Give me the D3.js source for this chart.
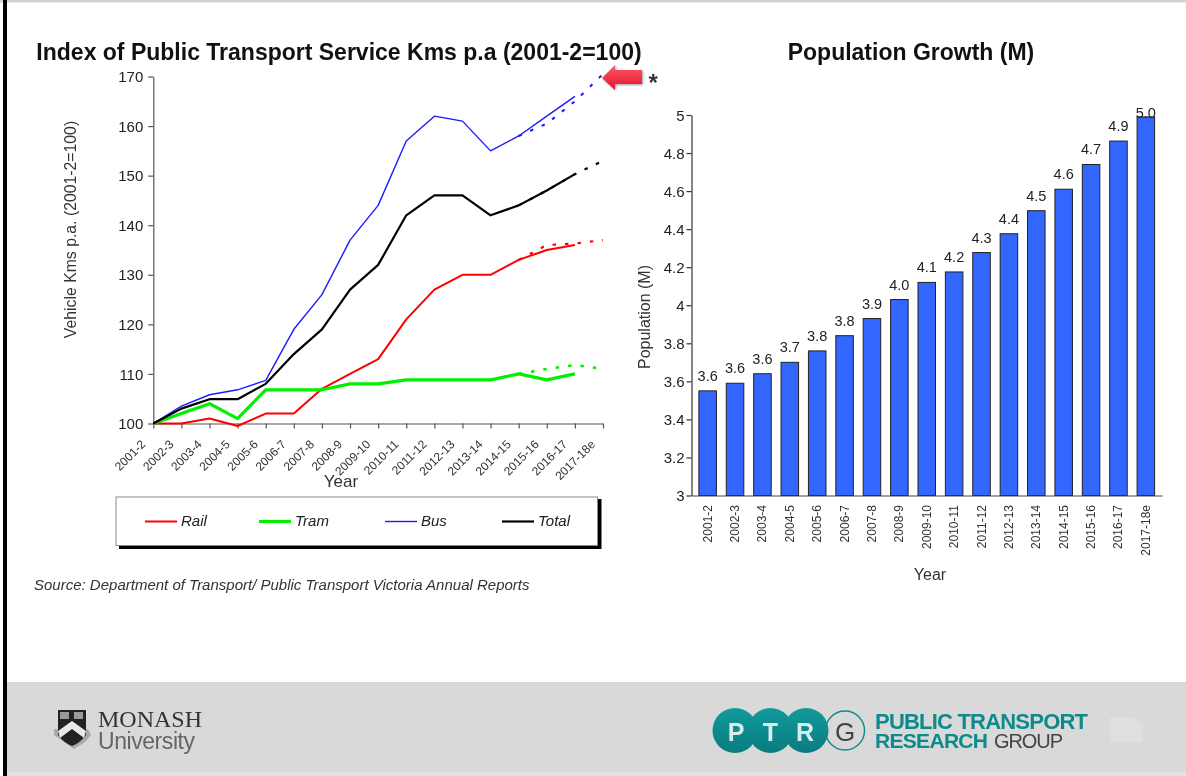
<!DOCTYPE html>
<html><head><meta charset="utf-8">
<script src="https://cdn.jsdelivr.net/npm/d3@7/dist/d3.min.js"></script>
<style>
html,body{margin:0;padding:0;background:#fff;overflow:hidden}
svg{display:block;filter:blur(0.4px)}
text{font-family:"Liberation Sans",Arial,sans-serif;fill:#222}
</style></head><body><svg id="c" width="1186" height="776"></svg>
<script>
const years = ["2001-2","2002-3","2003-4","2004-5","2005-6","2006-7","2007-8","2008-9","2009-10","2010-11","2011-12","2012-13","2013-14","2014-15","2015-16","2016-17","2017-18e"];
const rail  = [100,100,101,99.5,102,102,107,110,113,121,127,130,130,133,135,136];
const tram  = [100,102,104,101,106.8,106.8,106.8,108,108,108.8,108.8,108.8,108.8,110,108.8,110];
const bus   = [100,103.5,105.8,106.8,108.7,119,126,137,144,157,162,161,155,158,162,166];
const total = [100,103,104.9,104.9,108,114,119,127,132,142,146,146,142,144,147,150.3];
// Dotted projection series, starting at 2014-15
const railProj  = [133,136,136.3,137];
const tramProj  = [110,111,111.8,111];
const busProj   = [158,160.5,165,170.5];
const totalProj = [144,147,150.3,153];
const population = [3.55,3.59,3.64,3.70,3.76,3.84,3.93,4.03,4.12,4.175,4.277,4.376,4.497,4.61,4.74,4.863,4.99];
const popLabels = ["3.6","3.6","3.6","3.7","3.8","3.8","3.9","4.0","4.1","4.2","4.3","4.4","4.5","4.6","4.7","4.9","5.0"];
const legendNames = ["Rail","Tram","Bus","Total"];
const indexTicks = [100,110,120,130,140,150,160,170];
const popTicks = [3,3.2,3.4,3.6,3.8,4,4.2,4.4,4.6,4.8,5];

const svg = d3.select("#c");
const C = {Rail:"#ff0000",Tram:"#00f000",Bus:"#1a1aff",Total:"#000"};
const W = {Rail:2,Tram:3.2,Bus:1.4,Total:2.2};

// Slide frame
svg.append("rect").attr("width",1186).attr("height",2.5).attr("fill","#d4d4d4");
svg.append("rect").attr("x",3).attr("width",4).attr("height",776).attr("fill","#000");
svg.append("rect").attr("x",7).attr("y",682).attr("width",1179).attr("height",94).attr("fill","#d9d9d9");
svg.append("rect").attr("x",7).attr("y",771.5).attr("width",1179).attr("height",5).attr("fill","#e2e2e2");

// Titles
svg.append("text").attr("x",339).attr("y",60).attr("text-anchor","middle").attr("font-size",23).attr("font-weight","bold").style("fill","#111").text("Index of Public Transport Service Kms p.a (2001-2=100)");
svg.append("text").attr("x",911).attr("y",60).attr("text-anchor","middle").attr("font-size",23).attr("font-weight","bold").style("fill","#111").text("Population Growth (M)");

// LEFT CHART
const x = d3.scalePoint().domain(years).range([153.3,603]);
const y = d3.scaleLinear().domain([100,170]).range([423.5,76.5]);
const gl = svg.append("g");
const ax = gl.append("g").attr("transform","translate(0,423.5)").call(d3.axisBottom(x).tickSize(5).tickSizeOuter(0).tickFormat(""));
ax.selectAll("line,path").attr("stroke","#555").attr("stroke-width",1.2);
const ay = gl.append("g").attr("transform","translate(153.3,0)").call(d3.axisLeft(y).tickValues(indexTicks).tickSize(5).tickSizeOuter(0));
ay.selectAll("line,path").attr("stroke","#555").attr("stroke-width",1.2);
ay.selectAll("text").attr("font-size",15).attr("x",-10).attr("dy","0.34em").style("fill","#222").style("font-family","Liberation Sans");
gl.append("g").selectAll("text").data(years).join("text")
  .attr("text-anchor","end").attr("font-size",12).style("fill","#333")
  .attr("transform",d=>`translate(${x(d)-7},${445}) rotate(-45)`).text(d=>d);
gl.append("text").attr("x",341).attr("y",486.5).attr("text-anchor","middle").attr("font-size",17).style("fill","#333").text("Year");
gl.append("text").attr("transform","translate(75.5,229.5) rotate(-90)").attr("text-anchor","middle").attr("font-size",15.8).style("fill","#333").text("Vehicle Kms p.a. (2001-2=100)");

const line = d3.line().x(d=>x(d.k)).y(d=>y(d.v));
const toPts = (vals,start)=>vals.map((v,i)=>({k:years[start+i],v}));
const plot = [["Rail",rail,railProj],["Tram",tram,tramProj],["Bus",bus,busProj],["Total",total,totalProj]];
plot.forEach(([n,vals,proj])=>{
  gl.append("path").attr("d",line(toPts(proj,13))).attr("fill","none").attr("stroke",C[n])
    .attr("stroke-width",n==="Bus"?2:n==="Tram"?2.6:2.2).attr("stroke-dasharray","3.5 9");
});
plot.forEach(([n,vals])=>{
  gl.append("path").attr("d",line(toPts(vals,0))).attr("fill","none").attr("stroke",C[n])
    .attr("stroke-width",W[n]).attr("stroke-linejoin","round");
});

// Legend
const lg = svg.append("g");
lg.append("rect").attr("x",119).attr("y",499).attr("width",482.5).attr("height",50).attr("fill","#000");
lg.append("rect").attr("x",116).attr("y",497).attr("width",481.5).attr("height",48.5).attr("fill","#fff").attr("stroke","#888").attr("stroke-width",1);
const legendStart = d3.scaleOrdinal().domain(legendNames).range([145,259,385,502]);
legendNames.forEach(n=>{
  const lx = legendStart(n);
  lg.append("line").attr("x1",lx).attr("x2",lx+32).attr("y1",521.5).attr("y2",521.5).attr("stroke",C[n]).attr("stroke-width",W[n]);
  lg.append("text").attr("x",lx+36).attr("y",526).attr("font-size",15).attr("font-style","italic").style("fill","#222").text(n);
});

// Source
svg.append("text").attr("x",34).attr("y",590).attr("font-size",15).attr("font-style","italic").style("fill","#333").text("Source:  Department of Transport/ Public Transport Victoria Annual Reports");

// Red arrow
const defs = svg.append("defs");
const gr = defs.append("linearGradient").attr("id","arr").attr("x1",0).attr("x2",0).attr("y1",0).attr("y2",1);
gr.append("stop").attr("offset",0).attr("stop-color","#ff5a66");
gr.append("stop").attr("offset",1).attr("stop-color","#e8112d");
const tg = defs.append("linearGradient").attr("id","tealg").attr("x1",0).attr("x2",0).attr("y1",0).attr("y2",1);
tg.append("stop").attr("offset",0).attr("stop-color","#119a9a");
tg.append("stop").attr("offset",1).attr("stop-color","#0a7c80");
svg.append("path").attr("d","M602,78 L615,65 L615,70 L642,70 L642,84 L615,84 L615,90 Z").attr("fill","url(#arr)").style("filter","drop-shadow(1px 1px 1px rgba(0,0,0,.4))");
svg.append("text").attr("x",648.5).attr("y",91).attr("font-size",24).attr("font-weight","bold").style("fill","#333").text("*");

// RIGHT CHART
const bx = d3.scaleBand().domain(years).range([691.5,1162]).paddingInner(0.36).paddingOuter(0.27);
const by = d3.scaleLinear().domain([3,5]).range([495.5,115]);
const gr2 = svg.append("g");
gr2.selectAll("rect").data(years).join("rect")
  .attr("x",d=>bx(d)).attr("width",bx.bandwidth())
  .attr("y",(d,i)=>by(population[i])).attr("height",(d,i)=>by(3)-by(population[i]))
  .attr("fill","#3366ff").attr("stroke","#222").attr("stroke-width",1);
const bax = gr2.append("g").attr("transform","translate(0,495.5)").call(d3.axisBottom(bx).tickSize(0).tickFormat(""));
bax.selectAll("path").attr("stroke","#444").attr("stroke-width",1.2);
const bay = gr2.append("g").attr("transform","translate(691.5,0)").call(d3.axisLeft(by).tickValues(popTicks).tickFormat(d3.format("~g")).tickSize(5).tickSizeOuter(0));
bay.selectAll("line,path").attr("stroke","#333").attr("stroke-width",1.2);
bay.selectAll("text").attr("font-size",15).attr("x",-7).attr("dy","0.34em").style("fill","#222");
gr2.append("g").selectAll("text").data(years).join("text")
  .attr("text-anchor","end").attr("font-size",12).style("fill","#333")
  .attr("transform",d=>`translate(${bx(d)+bx.bandwidth()/2+4},505) rotate(-90)`).text(d=>d);
gr2.append("g").selectAll("text").data(years).join("text")
  .attr("text-anchor","middle").attr("font-size",14.5).style("fill","#222")
  .attr("x",d=>bx(d)+bx.bandwidth()/2).attr("y",(d,i)=>Math.max(by(population[i])-10,118)).text((d,i)=>popLabels[i]);
gr2.append("text").attr("x",930).attr("y",580).attr("text-anchor","middle").attr("font-size",16).style("fill","#333").text("Year");
gr2.append("text").attr("transform","translate(650,317) rotate(-90)").attr("text-anchor","middle").attr("font-size",16).style("fill","#333").text("Population (M)");

// Monash logo
const m = svg.append("g");
m.append("path").attr("d","M54,735 L64,742 L74,749 L85,742 L91,735 L88,729 L54,729 Z").attr("fill","#aaa");
m.append("path").attr("d","M58,710 H86 V735 Q80,743 72,746 Q64,743 58,735 Z").attr("fill","#222");
m.append("path").attr("d","M58,731 L72,721 L86,731 L84,738 L72,729 L60,738 Z").attr("fill","#e8e8e8");
m.append("rect").attr("x",60).attr("y",712).attr("width",9).attr("height",7).attr("fill","#999");
m.append("rect").attr("x",74).attr("y",712).attr("width",9).attr("height",7).attr("fill","#999");
m.append("text").attr("x",98).attr("y",727).attr("font-size",24).attr("textLength",104).style("font-family","Liberation Serif").style("fill","#333").text("MONASH");
m.append("text").attr("x",98).attr("y",749).attr("font-size",23).attr("textLength",97).style("fill","#666").text("University");

// PTRG logo
const p = svg.append("g");
const circleLetters = ["P","T","R"];
const teal = "#0c8a8c";
p.append("circle").attr("cx",845).attr("cy",730.5).attr("r",19.5).attr("fill","#d9d9d9").attr("stroke",teal).attr("stroke-width",1.4);
p.append("text").attr("x",845).attr("y",740.5).attr("text-anchor","middle").attr("font-size",26).style("fill","#444").text("G");
circleLetters.forEach((t,i)=>{
  p.append("circle").attr("cx",735+i*35.5).attr("cy",730.5).attr("r",22.5).attr("fill","url(#tealg)");
});
circleLetters.forEach((t,i)=>{
  p.append("text").attr("x",736+i*34.5).attr("y",740.5).attr("text-anchor","middle").attr("font-size",25).attr("font-weight","bold").style("fill","#d8ecec").text(t);
});
p.append("text").attr("x",875).attr("y",729).attr("font-size",22).attr("font-weight","bold").style("fill",teal).attr("textLength",213).text("PUBLIC TRANSPORT");
p.append("text").attr("x",875).attr("y",748).attr("font-size",21).attr("font-weight","bold").style("fill",teal).attr("textLength",113).text("RESEARCH");
p.append("text").attr("x",994).attr("y",748).attr("font-size",20).attr("textLength",69).style("fill","#444").text("GROUP");
p.append("path").attr("d","M1110,717 H1130 Q1143,720 1143,730 V742 H1110 Z").attr("fill","#dfdfdf");
</script></body></html>
